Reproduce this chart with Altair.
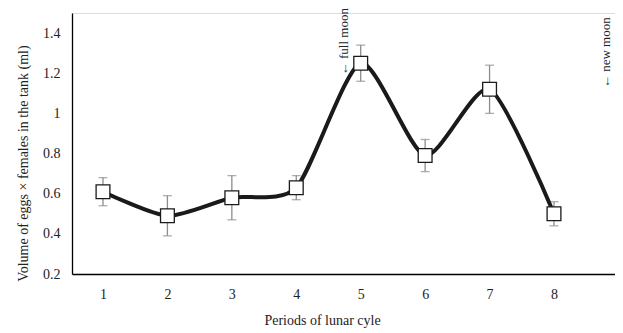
import altair as alt
import pandas as pd

periods = [1, 2, 3, 4, 5, 6, 7, 8]
volume = [0.61, 0.49, 0.58, 0.63, 1.25, 0.79, 1.12, 0.50]
err_low = [0.54, 0.39, 0.47, 0.57, 1.16, 0.71, 1.00, 0.44]
err_high = [0.68, 0.59, 0.69, 0.69, 1.34, 0.87, 1.24, 0.56]
y_ticks = [0.2, 0.4, 0.6, 0.8, 1.0, 1.2, 1.4]

ann_text = ["\u2190 full moon", "\u2190 new moon"]
ann_x = [4.74, 8.81]
ann_y = [1.19, 1.126]

df = pd.DataFrame({"period": periods, "volume": volume, "lo": err_low, "hi": err_high})
ann = pd.DataFrame({"text": ann_text, "x": ann_x, "y": ann_y})

FONT = "Liberation Serif"

xscale = alt.Scale(domain=[0.519, 8.947], nice=False, zero=False)
yscale = alt.Scale(domain=[0.2, 1.5], nice=False, zero=False)

xaxis = alt.Axis(values=periods, format="d", title="Periods of lunar cyle", grid=False, ticks=False,
                 domain=True, domainColor="#000", domainWidth=1.3,
                 labelFont=FONT, labelFontSize=14, labelColor="#222", labelPadding=13,
                 titleFont=FONT, titleFontSize=14, titleFontWeight="normal", titleColor="#222",
                 titlePadding=12, titleX=250, titleAnchor="middle")
yaxis = alt.Axis(values=y_ticks, title="Volume of eggs \u00d7 females in the tank (ml)", grid=False,
                 ticks=False, domain=True, domainColor="#000", domainWidth=1.3,
                 labelExpr="datum.value == 1 ? '1' : format(datum.value, '.1f')",
                 labelFont=FONT, labelFontSize=14, labelColor="#222", labelPadding=12,
                 titleFont=FONT, titleFontSize=14, titleFontWeight="normal", titleColor="#222",
                 titlePadding=12, titleY=150, titleAnchor="middle")

base = alt.Chart(df)

line = base.mark_line(interpolate="cardinal", tension=0.3, color="#1a1a1a", strokeWidth=4).encode(
    x=alt.X("period:Q", scale=xscale, axis=xaxis),
    y=alt.Y("volume:Q", scale=yscale, axis=yaxis),
)

rules = base.mark_rule(color="#8c8c8c", strokeWidth=1.3).encode(
    x="period:Q", y="lo:Q", y2="hi:Q"
)
cap_lo = base.mark_tick(color="#8c8c8c", orient="horizontal", size=9, thickness=1.3).encode(
    x="period:Q", y="lo:Q"
)
cap_hi = base.mark_tick(color="#8c8c8c", orient="horizontal", size=9, thickness=1.3).encode(
    x="period:Q", y="hi:Q"
)

points = base.mark_point(shape="square", filled=True, fill="white", stroke="#1a1a1a",
                         strokeWidth=1.3, size=190, opacity=1).encode(
    x="period:Q", y="volume:Q"
)

labels = alt.Chart(ann).mark_text(angle=270, align="left", baseline="middle", font=FONT,
                                  fontSize=13, color="#222").encode(
    x="x:Q", y="y:Q", text="text:N"
)

chart = alt.layer(rules, cap_lo, cap_hi, line, points, labels).properties(
    width=543, height=261,
    autosize=alt.AutoSizeParams(type="none"),
    padding={"left": 64, "top": 5, "right": 0, "bottom": 58},
).configure_view(stroke=None).configure(background="white")

chart.save("out.html", embed_options={"renderer": "svg", "actions": False})
